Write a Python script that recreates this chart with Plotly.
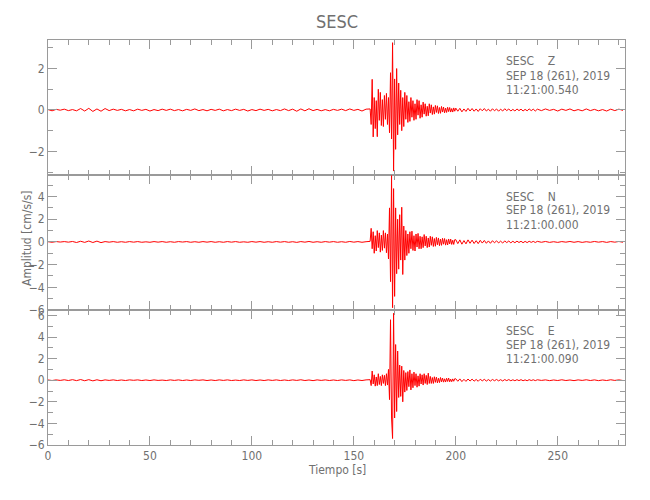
import numpy as np
import plotly.graph_objects as go
from plotly.subplots import make_subplots

# ---------------- data ----------------
STATION = "SESC"
COMPONENTS = ["Z", "N", "E"]
DATE_TEXT = "SEP 18 (261), 2019"
START_TIMES = ["11:21:00.540", "11:21:00.000", "11:21:00.090"]

# sampling of the segments (start [s], step [s])
SEG_START = [0, 158, 200, 240]
SEG_STEP = [2, 0.5, 1, 2]

Z_PRE = [0.02, -0.04, 0.03, -0.01, 0.04, -0.03, 0.02, -0.04, 0.07, -0.05,
         0.08, -0.07, 0.05, -0.06, 0.07, -0.03, 0.04, -0.02, 0.03, -0.04,
         0.02, -0.04, 0.04, -0.02, 0.03, -0.05, 0.02, -0.03, 0.04, -0.02,
         0.04, -0.03, 0.02, -0.04, 0.03, -0.02, 0.05, -0.03, 0.02, -0.04,
         0.03, -0.02, 0.04, -0.04, 0.02, -0.03, 0.04, -0.02, 0.03, -0.05,
         0.02, -0.03, 0.04, -0.02, 0.03, -0.04, 0.02, -0.03, 0.05, -0.03,
         0.04, -0.06, 0.05, -0.04, 0.06, -0.03, 0.03, -0.04, 0.02, -0.04,
         0.03, -0.02, 0.04, -0.03, 0.05, -0.02, 0.03, -0.05, 0.04]
Z_EVENT = [0.05, -0.7, 1.48, -1.3, 0.6, -0.9, 0.45, -1.29, 1.0, -0.5,
           0.85, -0.75, 0.5, -0.8, 0.7, -0.45, 0.8, -0.7, 0.6, -1.1,
           1.8, -1.4, 3.25, -2.95, 1.5, -1.9, 2.0, -1.2, 1.3, -0.7,
           0.95, -1.0, 0.6, -0.8, 0.85, -0.45, 0.7, -0.6, 0.4, -0.55,
           0.6, -0.35, 0.45, -0.5, 0.3, -0.45, 0.5, -0.25, 0.45, -0.4,
           0.25, -0.35, 0.38, -0.2, 0.3, -0.3, 0.18, -0.28, 0.3, -0.15,
           0.25, -0.22, 0.15, -0.2, 0.22, -0.12, 0.2, -0.17, 0.12, -0.16,
           0.17, -0.1, 0.14, -0.14, 0.09, -0.12, 0.13, -0.08, 0.12, -0.1,
           0.07, -0.1, 0.1, -0.06]
Z_CODA = [0.09, -0.06, 0.08, -0.09, 0.05, -0.07, 0.08, -0.05, 0.07, -0.06,
          0.05, -0.07, 0.06, -0.04, 0.07, -0.05, 0.04, -0.06, 0.06, -0.04,
          0.05, -0.06, 0.04, -0.05, 0.06, -0.03, 0.05, -0.05, 0.03, -0.05,
          0.05, -0.03, 0.04, -0.05, 0.03, -0.04, 0.05, -0.03, 0.04, -0.05]
Z_TAIL = [0.04, -0.03, 0.05, -0.02, 0.03, -0.05, 0.04, -0.02, 0.05, -0.04,
          0.02, -0.04, 0.05, -0.03, 0.03, -0.04, 0.02, -0.05, 0.04, -0.03,
          0.04, -0.02]

N_PRE = [0.02, -0.03, 0.03, -0.01, 0.03, -0.02, 0.04, -0.05, 0.06, -0.04,
         0.08, -0.05, 0.07, -0.06, 0.03, -0.02, 0.03, -0.03, 0.02, -0.03,
         0.03, -0.02, 0.03, -0.03, 0.01, -0.03, 0.03, -0.02, 0.03, -0.03,
         0.02, -0.03, 0.03, -0.01, 0.03, -0.03, 0.02, -0.03, 0.03, -0.02,
         0.03, -0.03, 0.02, -0.03, 0.03, -0.02, 0.03, -0.03, 0.01, -0.03,
         0.03, -0.02, 0.03, -0.03, 0.02, -0.03, 0.03, -0.02, 0.03, -0.03,
         0.02, -0.04, 0.03, -0.02, 0.04, -0.03, 0.02, -0.03, 0.03, -0.02,
         0.03, -0.03, 0.02, -0.03, 0.04, -0.02, 0.03, -0.03, 0.02]
N_EVENT = [0.05, 1.2, -0.6, 0.9, -1.0, 0.55, -0.8, 1.0, -0.5, 0.8,
           -0.9, 0.6, -0.75, 1.0, -0.55, 0.8, -0.95, 0.7, -1.5, 3.0,
           -3.5, 5.85, -5.8, 4.7, -4.8, 3.0, -2.8, 2.0, -2.4, 2.4,
           -1.6, 3.06, -2.87, 1.4, -1.6, 1.0, -1.2, 0.7, -1.0, 0.9,
           -0.6, 0.95, -0.75, 0.55, -0.8, 0.7, -0.45, 0.75, -0.6, 0.5,
           -0.6, 0.45, -0.5, 0.65, -0.35, 0.5, -0.5, 0.35, -0.45, 0.5,
           -0.3, 0.45, -0.4, 0.3, -0.38, 0.4, -0.25, 0.35, -0.33, 0.25,
           -0.3, 0.32, -0.2, 0.3, -0.28, 0.2, -0.27, 0.26, -0.18, 0.25,
           -0.22, 0.15, -0.22, 0.2]
N_CODA = [0.2, -0.15, 0.18, -0.2, 0.12, -0.17, 0.18, -0.12, 0.16, -0.14,
          0.11, -0.15, 0.14, -0.1, 0.13, -0.12, 0.09, -0.12, 0.11, -0.08,
          0.1, -0.09, 0.07, -0.1, 0.09, -0.06, 0.08, -0.08, 0.06, -0.07,
          0.07, -0.05, 0.06, -0.07, 0.05, -0.06, 0.06, -0.04, 0.05, -0.05]
N_TAIL = [0.05, -0.03, 0.04, -0.04, 0.02, -0.04, 0.03, -0.02, 0.04, -0.03,
          0.03, -0.04, 0.02, -0.03, 0.04, -0.02, 0.03, -0.04, 0.03, -0.02,
          0.04, -0.03]

E_PRE = [0.02, -0.03, 0.03, -0.02, 0.04, -0.03, 0.05, -0.04, 0.06, -0.05,
         0.05, -0.06, 0.04, -0.05, 0.03, -0.02, 0.03, -0.03, 0.02, -0.03,
         0.03, -0.01, 0.03, -0.03, 0.02, -0.03, 0.03, -0.02, 0.01, -0.03,
         0.03, -0.02, 0.03, -0.03, 0.02, -0.03, 0.03, -0.01, 0.03, -0.03,
         0.02, -0.03, 0.03, -0.02, 0.03, -0.03, 0.01, -0.03, 0.03, -0.02,
         0.03, -0.03, 0.02, -0.03, 0.03, -0.02, 0.03, -0.03, 0.02, -0.03,
         0.03, -0.02, 0.04, -0.03, 0.02, -0.04, 0.03, -0.02, 0.03, -0.03,
         0.02, -0.03, 0.03, -0.02, 0.03, -0.04, 0.02, -0.03, 0.03]
E_EVENT = [0.05, -0.5, 0.85, -0.35, 0.5, -0.55, 0.3, -0.5, 0.6, -0.4,
           0.35, -0.5, 0.5, -0.3, 0.45, -0.5, 0.6, -0.45, 1.0, -1.8,
           5.6, -3.5, -5.4, 6.2, -3.5, 3.3, -2.9, 2.7, -1.6, 1.4,
           -1.5, 1.3, -2.0, 0.9, -1.1, 0.7, -0.95, 0.8, -0.6, 0.95,
           -0.9, 0.6, -0.7, 0.75, -0.5, 0.6, -0.65, 0.4, -0.55, 0.6,
           -0.35, 0.5, -0.45, 0.6, -0.3, 0.45, -0.4, 0.65, -0.3, 0.35,
           -0.3, 0.25, -0.3, 0.32, -0.2, 0.28, -0.25, 0.18, -0.22, 0.25,
           -0.15, 0.2, -0.18, 0.13, -0.17, 0.18, -0.12, 0.2, -0.15, 0.1,
           -0.14, 0.12, -0.1, 0.14]
E_CODA = [0.13, -0.1, 0.12, -0.13, 0.08, -0.11, 0.11, -0.08, 0.1, -0.09,
          0.07, -0.1, 0.09, -0.06, 0.08, -0.08, 0.06, -0.08, 0.07, -0.05,
          0.07, -0.06, 0.05, -0.07, 0.06, -0.04, 0.06, -0.05, 0.04, -0.05,
          0.05, -0.04, 0.05, -0.05, 0.03, -0.05, 0.05, -0.03, 0.04, -0.04]
E_TAIL = [0.04, -0.02, 0.03, -0.04, 0.02, -0.03, 0.04, -0.03, 0.02, -0.04,
          0.03, -0.02, 0.04, -0.03, 0.03, -0.04, 0.02, -0.03, 0.04, -0.02,
          0.03, -0.03]

TRACES = {
    "Z": [Z_PRE, Z_EVENT, Z_CODA, Z_TAIL],
    "N": [N_PRE, N_EVENT, N_CODA, N_TAIL],
    "E": [E_PRE, E_EVENT, E_CODA, E_TAIL],
}

X_RANGE = [0, 283]
Y_RANGES = {"Z": [-3.14, 3.38], "N": [-6.0, 5.9], "E": [-6.0, 6.5]}

# ---------------- figure ----------------
FONT = "Liberation Sans Narrow, DejaVu Sans Condensed, Arial Narrow, sans-serif"
TXT = "#707070"
AX = "#9a9a9a"

# the page body adds an 8 px offset; the figure is sized to fill the window
OFF = 8
W, H = 650 - OFF, 500 - OFF
PLOT_L, PLOT_R, PLOT_T, PLOT_B = 48, 625, 40, 445   # page pixels
ML = PLOT_L - OFF
MT = PLOT_T - OFF
MR = W - (PLOT_R - OFF)
MB = H - (PLOT_B - OFF)
PW = PLOT_R - PLOT_L
PH = PLOT_B - PLOT_T


def py_paper(py):
    return (PLOT_B - py) / PH


def px_paper(px):
    return (px - PLOT_L) / PW


fig = make_subplots(rows=3, cols=1, shared_xaxes=True, vertical_spacing=0)

for i, comp in enumerate(COMPONENTS):
    segs = TRACES[comp]
    t = np.concatenate([s0 + ds * np.arange(len(v))
                        for s0, ds, v in zip(SEG_START, SEG_STEP, segs)])
    a = np.concatenate([np.asarray(v, dtype=float) for v in segs])
    fig.add_trace(go.Scatter(x=t, y=a, mode="lines",
                             line=dict(color="#ff0000", width=1.0),
                             hoverinfo="skip", showlegend=False),
                  row=i + 1, col=1)

common = dict(showline=True, linecolor=AX, linewidth=1, mirror="allticks",
              ticks="inside", ticklen=9, tickcolor=AX, tickwidth=1,
              showgrid=False, zeroline=False, automargin=False,
              tickfont=dict(family=FONT, size=12, color=TXT))

for i, comp in enumerate(COMPONENTS):
    fig.update_xaxes(range=X_RANGE, dtick=50, tick0=0,
                     minor=dict(ticks="inside", ticklen=5, tickcolor=AX,
                                dtick=10, showgrid=False),
                     row=i + 1, col=1, **common)
    fig.update_yaxes(range=Y_RANGES[comp], dtick=2, tick0=0,
                     minor=dict(ticks="inside", ticklen=5, tickcolor=AX,
                                dtick=1, showgrid=False),
                     row=i + 1, col=1, **common)

annotations = []
panel_tops = [40, 175, 309]
for i, comp in enumerate(COMPONENTS):
    lines = [STATION + "\u00a0\u00a0\u00a0\u00a0" + comp, DATE_TEXT, START_TIMES[i]]
    for txt, off in zip(lines, [21.5, 35.5, 50.0]):
        annotations.append(dict(
            text=txt, xref="paper", yref="paper",
            x=px_paper(504), y=py_paper(panel_tops[i] + off),
            xanchor="left", yanchor="middle", showarrow=False,
            font=dict(family=FONT, size=12, color=TXT)))

annotations.append(dict(text="Amplitud [cm/s/s]", xref="paper", yref="paper",
                        x=px_paper(27), y=py_paper(238),
                        xanchor="center", yanchor="middle", textangle=-90,
                        showarrow=False, font=dict(family=FONT, size=12, color=TXT)))
annotations.append(dict(text="Tiempo [s]", xref="paper", yref="paper",
                        x=0.5, y=py_paper(470),
                        xanchor="center", yanchor="middle",
                        showarrow=False, font=dict(family=FONT, size=12, color=TXT)))
annotations.append(dict(text=STATION, xref="paper", yref="paper",
                        x=0.5, y=py_paper(22),
                        xanchor="center", yanchor="middle",
                        showarrow=False, font=dict(family=FONT, size=18, color=TXT)))

fig.update_layout(
    width=W, height=H,
    margin=dict(l=ML, r=MR, t=MT, b=MB, autoexpand=False),
    paper_bgcolor="white", plot_bgcolor="white",
    annotations=annotations,
    showlegend=False,
)

fig.write_html("out.html")
